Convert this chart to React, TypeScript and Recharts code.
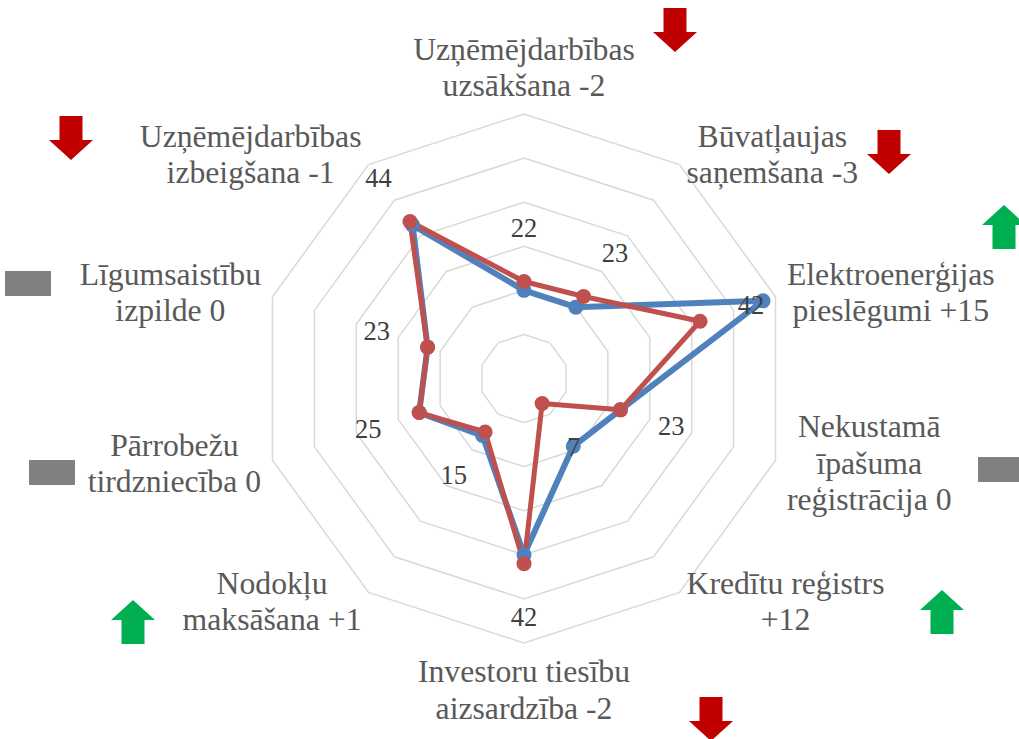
import React from 'react';
import { RadarChart, Radar, PolarGrid, PolarAngleAxis, PolarRadiusAxis } from 'recharts';

// ---- data ----
const categories: string[] = [
  'Uzņēmējdarbības\nuzsākšana -2',
  'Būvatļaujas\nsaņemšana -3',
  'Elektroenerģijas\npieslēgumi +15',
  'Nekustamā\nīpašuma\nreģistrācija 0',
  'Kredītu reģistrs\n+12',
  'Investoru tiesību\naizsardzība -2',
  'Nodokļu\nmaksāšana +1',
  'Pārrobežu\ntirdzniecība 0',
  'Līgumsaistību\nizpilde 0',
  'Uzņēmējdarbības\nizbeigšana -1',
];
const rankPrevious: number[] = [20, 20, 57, 23, 19, 40, 16, 25, 23, 43];
const rankCurrent: number[] = [22, 23, 42, 23, 7, 42, 15, 25, 23, 44];
const changes: number[] = [-2, -3, 15, 0, 12, -2, 1, 0, 0, -1];
const radiusTicks: number[] = [0, 10, 20, 30, 40, 50, 60];

// ---- layout ----
const W = 1019;
const H = 739;
const CX = 524;
const CY = 378.5;
const R = 264.5;
const CAT_FONT = 31.7;
const CAT_LH = 36.5;
const VAL_FONT = 26.5;
const VAL_OFFSET = 53.5;
const FONT_FAMILY = "'Liberation Serif', 'Times New Roman', serif";
const BLUE = '#4f81bd';
const RED = '#c0504d';

// indicator placements (center x, top y) for each category
const indicatorPos: [number, number][] = [
  [675, 8],
  [889, 130],
  [1004, 205],
  [1001, 457],
  [942, 590],
  [711, 697],
  [133, 600],
  [52, 460],
  [28, 271],
  [71, 116],
];

const data = categories.map((name, i) => ({
  name,
  prev: rankPrevious[i],
  curr: rankCurrent[i],
}));

let ctx: CanvasRenderingContext2D | null = null;
function measure(text: string, size: number): number {
  try {
    if (!ctx && typeof document !== 'undefined') {
      ctx = document.createElement('canvas').getContext('2d');
    }
    if (ctx) {
      ctx.font = `${size}px 'Liberation Serif'`;
      return ctx.measureText(text).width;
    }
  } catch (e) {
    /* ignore */
  }
  return text.length * size * 0.45;
}

const AngleTick = (props: any) => {
  const { x, y, payload } = props;
  const lines = String(payload.value).split('\n');
  const widths = lines.map((l) => measure(l, CAT_FONT));
  const bw = Math.max(...widths);
  const n = lines.length;
  let lineX = x;
  let firstBaseline: number;
  if (Math.abs(x - CX) < 2) {
    lineX = x;
    if (y < CY) firstBaseline = y - 6 - (n - 1) * CAT_LH;
    else firstBaseline = y + 27;
  } else {
    lineX = x > CX ? x + bw / 2 : x - bw / 2;
    firstBaseline = y + 10 - ((n - 1) / 2) * CAT_LH;
  }
  return (
    <text style={{ fontFamily: FONT_FAMILY }} fontSize={CAT_FONT} fill="#595959" textAnchor="middle">
      {lines.map((l, i) => (
        <tspan key={i} x={lineX} y={firstBaseline + i * CAT_LH}>
          {l}
        </tspan>
      ))}
    </text>
  );
};

const ValueLabel = (props: any) => {
  const { value } = props;
  let px: number | undefined = props.x;
  let py: number | undefined = props.y;
  const vb = props.viewBox || {};
  if (px == null || py == null) {
    if (vb.x != null && vb.y != null) {
      px = vb.x;
      py = vb.y;
    } else if (vb.cx != null) {
      const a = ((vb.startAngle ?? 0) * Math.PI) / 180;
      px = vb.cx + vb.outerRadius * Math.cos(-a);
      py = vb.cy + vb.outerRadius * Math.sin(-a);
    }
  }
  if (px == null || py == null) return null;
  const dx = px - CX;
  const dy = py - CY;
  const d = Math.hypot(dx, dy) || 1;
  const lx = px + (dx / d) * VAL_OFFSET;
  const ly = py + (dy / d) * VAL_OFFSET;
  return (
    <text
      x={lx}
      y={ly + 9}
      textAnchor="middle"
      style={{ fontFamily: FONT_FAMILY }}
      fontSize={VAL_FONT}
      fill="#404040"
    >
      {value}
    </text>
  );
};

const makeDot = (color: string) => (p: any) => {
  const x = p.cx ?? p.x;
  const y = p.cy ?? p.y;
  if (x == null || y == null) return <g key={p.index} />;
  return <circle key={`d-${p.index}`} cx={x} cy={y} r={7.5} fill={color} stroke="none" />;
};

const Indicator = ({ change, cx, top }: { change: number; cx: number; top: number }) => {
  if (change === 0) {
    return <rect x={cx - 23} y={top} width={46} height={25} fill="#808080" />;
  }
  if (change > 0) {
    const d = `M ${cx} ${top} L ${cx + 22} ${top + 20} L ${cx + 11.5} ${top + 20} L ${cx + 11.5} ${top + 44} L ${cx - 11.5} ${top + 44} L ${cx - 11.5} ${top + 20} L ${cx - 22} ${top + 20} Z`;
    return <path d={d} fill="#00b050" />;
  }
  const d = `M ${cx - 11.5} ${top} L ${cx + 11.5} ${top} L ${cx + 11.5} ${top + 24} L ${cx + 22} ${top + 24} L ${cx} ${top + 44} L ${cx - 22} ${top + 24} L ${cx - 11.5} ${top + 24} Z`;
  return <path d={d} fill="#c00000" />;
};

export default function App() {
  return (
    <div style={{ position: 'absolute', left: 0, top: 0, width: W, height: H, background: '#ffffff' }}>
      <RadarChart
        width={W}
        height={H}
        data={data}
        cx={CX}
        cy={CY}
        outerRadius={R}
        margin={{ top: 0, right: 0, bottom: 0, left: 0 }}
      >
        <PolarGrid gridType="polygon" radialLines={false} stroke="#d9d9d9" strokeWidth={1.5} />
        <PolarAngleAxis
          dataKey="name"
          tick={AngleTick}
          tickSize={12}
          tickLine={false}
          axisLine={false}
        />
        <PolarRadiusAxis
          domain={[0, 60]}
          ticks={radiusTicks as any}
          tickCount={7}
          tick={false}
          axisLine={false}
        />
        <Radar
          dataKey="prev"
          stroke={BLUE}
          strokeWidth={6}
          strokeLinejoin="round"
          fill="none"
          fillOpacity={0}
          dot={makeDot(BLUE)}
          isAnimationActive={false}
        />
        <Radar
          dataKey="curr"
          stroke={RED}
          strokeWidth={5}
          strokeLinejoin="round"
          fill="none"
          fillOpacity={0}
          dot={makeDot(RED)}
          label={ValueLabel}
          isAnimationActive={false}
        />
      </RadarChart>
      <svg
        width={W}
        height={H}
        style={{ position: 'absolute', left: 0, top: 0, pointerEvents: 'none' }}
      >
        {changes.map((c, i) => (
          <Indicator key={i} change={c} cx={indicatorPos[i][0]} top={indicatorPos[i][1]} />
        ))}
      </svg>
    </div>
  );
}
